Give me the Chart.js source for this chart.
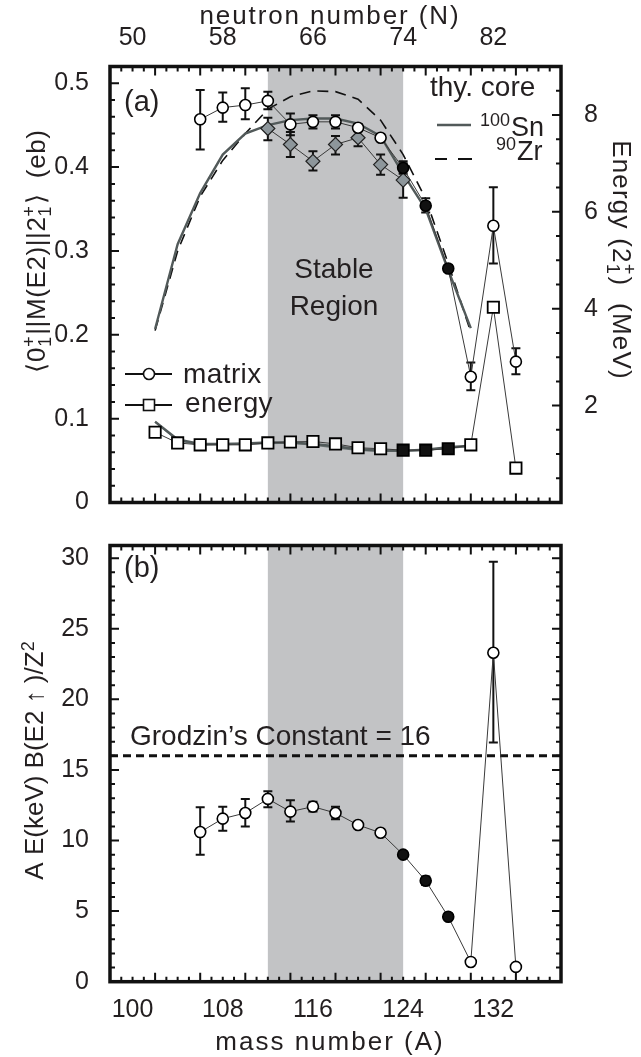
<!DOCTYPE html>
<html>
<head>
<meta charset="utf-8">
<script src="https://cdn.jsdelivr.net/npm/chart.js@4.4.1/dist/chart.umd.min.js"></script>
<style>
    body { margin: 0; background: #fff; }
    #wrap { position: relative; width: 641px; height: 1057px; }
    .box { position: absolute; left: 0; width: 641px; }
</style>
</head>
<body>
<div id="wrap">
    <div class="box" style="top:0;height:530px"><canvas id="topChart" width="641" height="530"></canvas></div>
    <div class="box" style="top:520px;height:537px"><canvas id="bottomChart" width="641" height="537"></canvas></div>
</div>
<script>
// ---- data ----
const matrixMass   = [106, 108, 110, 112, 114, 116, 118, 120, 122, 124, 126, 128, 130, 132, 134];
const matrixValues = [0.457, 0.471, 0.474, 0.479, 0.451, 0.454, 0.454, 0.447, 0.435, 0.399, 0.354, 0.279, 0.150, 0.330, 0.168];
const matrixErrUp  = [0.035, 0.018, 0.020, 0.011, 0.013, 0.008, 0.008, 0.004, 0.004, 0.008, 0.009, 0.004, 0.017, 0.046, 0.016];
const matrixErrDn  = [0.036, 0.017, 0.017, 0.010, 0.013, 0.008, 0.008, 0.004, 0.004, 0.007, 0.008, 0.004, 0.016, 0.045, 0.015];

const diamondMass   = [112, 114, 116, 118, 120, 122, 124];
const diamondValues = [0.446, 0.427, 0.407, 0.427, 0.435, 0.403, 0.3845];
const diamondErrUp  = [0.013, 0.015, 0.012, 0.010, 0.009, 0.012, 0.020];
const diamondErrDn  = [0.014, 0.015, 0.011, 0.012, 0.010, 0.012, 0.021];

const energyMass   = [102, 104, 106, 108, 110, 112, 114, 116, 118, 120, 122, 124, 126, 128, 130, 132, 134];
const energyValues = [1.45, 1.23, 1.19, 1.19, 1.19, 1.23, 1.25, 1.26, 1.21, 1.13, 1.11, 1.08, 1.08, 1.11, 1.19, 4.03, 0.71];

const theoryMass     = [102, 104, 106, 108, 110, 112, 114, 116, 118, 120, 122, 124, 126, 128, 130];
const theorySnMatrix = [0.207, 0.308, 0.369, 0.415, 0.440, 0.450, 0.456, 0.458, 0.458, 0.452, 0.437, 0.392, 0.350, 0.277, 0.208];
const theoryZrMatrix = [0.205, 0.300, 0.365, 0.408, 0.440, 0.469, 0.484, 0.491, 0.490, 0.481, 0.456, 0.415, 0.362, 0.285, 0.203];
const theorySnEnergy = [1.67, 1.30, 1.21, 1.21, 1.22, 1.24, 1.24, 1.21, 1.16, 1.10, 1.07, 1.07, 1.09, 1.14, 1.17];
const theoryZrEnergy = [1.66, 1.28, 1.19, 1.20, 1.21, 1.22, 1.23, 1.19, 1.13, 1.08, 1.06, 1.06, 1.08, 1.12, 1.16];

const ratioMass   = [106, 108, 110, 112, 114, 116, 118, 120, 122, 124, 126, 128, 130, 132, 134];
const ratioValues = [10.6, 11.55, 11.95, 12.95, 12.05, 12.4, 11.95, 11.1, 10.55, 9.0, 7.15, 4.6, 1.4, 23.3, 1.05];
const ratioErrUp  = [1.75, 0.85, 1.0, 0.55, 0.8, 0.35, 0.45, 0, 0, 0, 0.3, 0, 0, 6.45, 0];
const ratioErrDn  = [1.6, 0.85, 0.95, 0.6, 0.7, 0.35, 0.45, 0, 0, 0, 0.3, 0, 0, 6.35, 0];

const filledMass = [124, 126, 128];
const stableRegion = [112, 124];
const grodzinConstant = 16;

const massTicks    = [100, 108, 116, 124, 132];
const neutronTicks = [50, 58, 66, 74, 82];
const matrixTicks  = [0, 0.1, 0.2, 0.3, 0.4, 0.5];
const energyTicks  = [2, 4, 6, 8];
const ratioTicks   = [0, 5, 10, 15, 20, 25, 30];

// ---- look ----
const FONT = '"Liberation Sans", Arial, Helvetica, sans-serif';
const TEXT = '#231f20';
const THIN = '#3a3a3a';
const THY = '#525a5a';
const SHADE = '#c2c3c5';

const pts = (xs, ys) => xs.map((x, i) => ({x: x, y: ys[i]}));
const fills = xs => xs.map(x => filledMass.includes(x) ? '#111' : '#fff');
const setTicks = arr => scale => { scale.ticks = arr.map(v => ({value: v})); };
const tickFont = {family: FONT, size: 25, lineHeight: 1};

// text with sub/superscripts; letter spacing done by hand (one glyph at a time)
function drawRich(ctx, parts, x, y, o) {
    const size = o.size, sp = o.spacing || 0;
    const small = Math.round(size * 0.68) + 'px ' + FONT;
    const bigFont = p => (p.bold ? 'bold ' : '') + size + 'px ' + FONT;
    ctx.save();
    ctx.translate(x, y);
    if (o.rotate) ctx.rotate(o.rotate);
    ctx.fillStyle = TEXT;
    ctx.textBaseline = 'alphabetic';
    ctx.textAlign = 'left';
    const textWidth = s => sp ? [...s].reduce((w, c) => w + ctx.measureText(c).width + sp, 0) : ctx.measureText(s).width;
    const widthOf = p => {
        if (p.t) { ctx.font = bigFont(p); return textWidth(p.t); }
        ctx.font = small;
        return Math.max(ctx.measureText(p.sup || '').width, ctx.measureText(p.sub || '').width) + 1 + sp;
    };
    const total = parts.reduce((s, p) => s + widthOf(p), 0);
    let cx = o.align === 'center' ? -total / 2 : 0;
    parts.forEach(p => {
        const w = widthOf(p);
        if (p.t) {
            ctx.font = bigFont(p);
            if (sp) {
                let gx = cx;
                for (const c of p.t) { ctx.fillText(c, gx, 0); gx += ctx.measureText(c).width + sp; }
            } else ctx.fillText(p.t, cx, 0);
        } else {
            ctx.font = small;
            if (p.sup) ctx.fillText(p.sup, cx, p.sub ? -size * 0.40 : -size * 0.36);
            if (p.sub) ctx.fillText(p.sub, cx, size * 0.24);
        }
        cx += w;
    });
    ctx.restore();
}

function tickMarks(ctx, scale, area, side, step, count, majorEvery, from) {
    ctx.beginPath();
    for (let i = 0; i <= count; i++) {
        const v = from + i * step;
        const p = scale.getPixelForValue(v);
        const len = (i % majorEvery === 0) ? 9 : 5;
        if (side === 'top')    { ctx.moveTo(p, area.top);    ctx.lineTo(p, area.top + len); }
        if (side === 'bottom') { ctx.moveTo(p, area.bottom); ctx.lineTo(p, area.bottom - len); }
        if (side === 'left')   { ctx.moveTo(area.left, p);   ctx.lineTo(area.left + len, p); }
        if (side === 'right')  { ctx.moveTo(area.right, p);  ctx.lineTo(area.right - len, p); }
    }
    ctx.stroke();
}

function errorBars(ctx, xs, ys, up, dn, xScale, yScale) {
    ctx.save();
    ctx.strokeStyle = '#111';
    ctx.lineWidth = 2;
    ctx.beginPath();
    xs.forEach((m, i) => {
        if (!up[i] && !dn[i]) return;
        const x = xScale.getPixelForValue(m);
        const t = yScale.getPixelForValue(ys[i] + up[i]);
        const b = yScale.getPixelForValue(ys[i] - dn[i]);
        ctx.moveTo(x, t); ctx.lineTo(x, b);
        ctx.moveTo(x - 4.5, t); ctx.lineTo(x + 4.5, t);
        ctx.moveTo(x - 4.5, b); ctx.lineTo(x + 4.5, b);
    });
    ctx.stroke();
    ctx.restore();
}

function shade(chart) {
    const {ctx, chartArea: a, scales: {x}} = chart;
    const l = x.getPixelForValue(stableRegion[0]), r = x.getPixelForValue(stableRegion[1]);
    ctx.save();
    ctx.fillStyle = SHADE;
    ctx.fillRect(l, a.top, r - l, a.bottom - a.top);
    ctx.restore();
}

function frame(ctx, a) {
    ctx.save();
    ctx.strokeStyle = '#111';
    ctx.lineWidth = 3.5;
    ctx.strokeRect(a.left, a.top, a.right - a.left, a.bottom - a.top);
    ctx.restore();
}

// ---- panel (a) ----
const topDecor = {
    id: 'topDecor',
    beforeDatasetsDraw(chart) {
        const {ctx, scales} = chart;
        shade(chart);
        errorBars(ctx, matrixMass, matrixValues, matrixErrUp, matrixErrDn, scales.x, scales.y);
        errorBars(ctx, diamondMass, diamondValues, diamondErrUp, diamondErrDn, scales.x, scales.y);
    },
    afterDraw(chart) {
        const {ctx, chartArea: a, scales} = chart;
        ctx.save();
        ctx.strokeStyle = '#111';
        ctx.lineWidth = 2;
        tickMarks(ctx, scales.x, a, 'top', 1, 40, 4, 98);
        tickMarks(ctx, scales.x, a, 'bottom', 1, 40, 4, 98);
        tickMarks(ctx, scales.y, a, 'left', 0.02, 26, 5, 0);
        tickMarks(ctx, scales.yE, a, 'right', 0.5, 18, 4, 0);
        ctx.restore();
        frame(ctx, a);

        drawRich(ctx, [{t: 'neutron number (N)'}], 330, 23.5, {size: 26, spacing: 1.9, align: 'center'});
        drawRich(ctx, [{t: '\u27e80'}, {sup: '+', sub: '1'}, {t: '||M(E2)||2'}, {sup: '+', sub: '1'}, {t: '\u27e9  (eb)'}],
            45, 251, {size: 26, spacing: 0.6, align: 'center', rotate: -Math.PI / 2});
        drawRich(ctx, [{t: 'Energy (2'}, {sup: '+', sub: '1'}, {t: ')  (MeV)'}],
            613, 260, {size: 26, spacing: 1.2, align: 'center', rotate: Math.PI / 2});

        drawRich(ctx, [{t: '(a)'}], 124, 111, {size: 29});
        drawRich(ctx, [{t: 'Stable'}], 334, 278, {size: 28, align: 'center'});
        drawRich(ctx, [{t: 'Region'}], 334, 315, {size: 28, align: 'center'});

        // theory legend
        drawRich(ctx, [{t: 'thy. core'}], 430, 96, {size: 28});
        drawRich(ctx, [{sup: '100'}, {t: 'Sn'}], 480, 136, {size: 27});
        drawRich(ctx, [{sup: '90'}, {t: 'Zr'}], 496, 160, {size: 27});
        ctx.save();
        ctx.strokeStyle = THY;
        ctx.lineWidth = 2.4;
        ctx.beginPath(); ctx.moveTo(437, 125); ctx.lineTo(471, 125); ctx.stroke();
        ctx.strokeStyle = '#111';
        ctx.lineWidth = 1.8;
        ctx.beginPath(); ctx.moveTo(435, 159); ctx.lineTo(447, 159); ctx.moveTo(458, 159); ctx.lineTo(472, 159); ctx.stroke();

        // data legend
        ctx.strokeStyle = '#111';
        ctx.lineWidth = 2;
        ctx.beginPath(); ctx.moveTo(125, 374); ctx.lineTo(172, 374); ctx.moveTo(125, 405); ctx.lineTo(172, 405); ctx.stroke();
        ctx.fillStyle = '#fff';
        ctx.lineWidth = 1.6;
        ctx.beginPath(); ctx.arc(149, 374, 5.5, 0, Math.PI * 2); ctx.fill(); ctx.stroke();
        ctx.fillRect(143.5, 399.5, 11, 11); ctx.strokeRect(143.5, 399.5, 11, 11);
        ctx.restore();
        drawRich(ctx, [{t: 'matrix'}], 183, 383, {size: 28, spacing: 0.4});
        drawRich(ctx, [{t: 'energy'}], 185, 412, {size: 28, spacing: 0.4});
    }
};

new Chart(document.getElementById('topChart'), {
    type: 'scatter',
    data: {
        datasets: [{
            label: 'matrix',
            data: pts(matrixMass, matrixValues),
            yAxisID: 'y',
            showLine: true,
            borderColor: THIN,
            borderWidth: 1,
            pointStyle: 'circle',
            pointRadius: 5.5,
            pointBackgroundColor: fills(matrixMass),
            pointBorderColor: '#000',
            pointBorderWidth: 1.6
        }, {
            label: 'energy',
            data: pts(energyMass, energyValues),
            yAxisID: 'yE',
            showLine: true,
            borderColor: THIN,
            borderWidth: 1,
            pointStyle: 'rect',
            pointRadius: 8,
            pointBackgroundColor: fills(energyMass),
            pointBorderColor: '#000',
            pointBorderWidth: 1.8
        }, {
            label: 'other',
            data: pts(diamondMass, diamondValues),
            yAxisID: 'y',
            showLine: true,
            borderColor: THIN,
            borderWidth: 1,
            pointStyle: 'rectRot',
            pointRadius: 7,
            pointBackgroundColor: '#8d969b',
            pointBorderColor: '#222',
            pointBorderWidth: 1.2
        }, {
            label: '100Sn',
            data: pts(theoryMass, theorySnMatrix),
            yAxisID: 'y',
            showLine: true,
            borderColor: THY,
            borderWidth: 2.4,
            pointRadius: 0
        }, {
            label: '90Zr',
            data: pts(theoryMass, theoryZrMatrix),
            yAxisID: 'y',
            showLine: true,
            borderColor: '#111',
            borderWidth: 1.6,
            borderDash: [11, 7],
            pointRadius: 0
        }, {
            label: '100Sn energy',
            data: pts(theoryMass, theorySnEnergy),
            yAxisID: 'yE',
            showLine: true,
            borderColor: THY,
            borderWidth: 2.4,
            pointRadius: 0
        }, {
            label: '90Zr energy',
            data: pts(theoryMass, theoryZrEnergy),
            yAxisID: 'yE',
            showLine: true,
            borderColor: '#6a7272',
            borderWidth: 1.6,
            pointRadius: 0
        }]
    },
    options: {
        responsive: false,
        animation: false,
        events: [],
        layout: {padding: 0},
        plugins: {legend: {display: false}, tooltip: {enabled: false}},
        scales: {
            x: {
                type: 'linear', position: 'bottom', min: 98, max: 138,
                grid: {display: false}, border: {display: false},
                ticks: {display: false},
                afterFit: s => { s.height = 13.3; }
            },
            xN: {
                type: 'linear', position: 'top', min: 48, max: 88,
                grid: {display: false}, border: {display: false},
                afterBuildTicks: setTicks(neutronTicks),
                ticks: {font: tickFont, color: TEXT, padding: 8, maxRotation: 0},
                afterFit: s => { s.height = 66.5; }
            },
            y: {
                type: 'linear', position: 'left', min: 0, max: 0.52,
                grid: {display: false}, border: {display: false},
                afterBuildTicks: setTicks(matrixTicks),
                ticks: {font: tickFont, color: TEXT, padding: 13, callback: v => v === 0 ? '0' : v.toFixed(1)},
                afterFit: s => { s.width = 110; }
            },
            yE: {
                type: 'linear', position: 'right', min: 0, max: 9,
                grid: {display: false}, border: {display: false},
                afterBuildTicks: setTicks(energyTicks),
                ticks: {font: tickFont, color: TEXT, padding: 15},
                afterFit: s => { s.width = 80; }
            }
        }
    },
    plugins: [topDecor]
});

// ---- panel (b) ----
const bottomDecor = {
    id: 'bottomDecor',
    beforeDatasetsDraw(chart) {
        const {ctx, chartArea: a, scales} = chart;
        shade(chart);
        const gy = scales.y.getPixelForValue(grodzinConstant);
        ctx.save();
        ctx.strokeStyle = '#111';
        ctx.lineWidth = 3;
        ctx.setLineDash([8, 5]);
        ctx.beginPath(); ctx.moveTo(a.left, gy); ctx.lineTo(a.right, gy); ctx.stroke();
        ctx.restore();
        errorBars(ctx, ratioMass, ratioValues, ratioErrUp, ratioErrDn, scales.x, scales.y);
    },
    afterDraw(chart) {
        const {ctx, chartArea: a, scales} = chart;
        ctx.save();
        ctx.strokeStyle = '#111';
        ctx.lineWidth = 2;
        tickMarks(ctx, scales.x, a, 'top', 1, 40, 4, 98);
        tickMarks(ctx, scales.x, a, 'bottom', 1, 40, 4, 98);
        tickMarks(ctx, scales.y, a, 'left', 1, 30, 5, 0);
        tickMarks(ctx, scales.y, a, 'right', 1, 30, 5, 0);
        ctx.restore();
        frame(ctx, a);

        drawRich(ctx, [{t: '(b)'}], 124, 577 - 520, {size: 29});
        drawRich(ctx, [{t: 'Grodzin\u2019s Constant = 16'}], 130, 745 - 520, {size: 28});
        drawRich(ctx, [{t: 'A E(keV) B(E2 '}, {t: '\u2191', bold: true}, {t: ' )/Z'}, {sup: '2'}], 43, 760 - 520,
            {size: 26, align: 'center', rotate: -Math.PI / 2});
        drawRich(ctx, [{t: 'mass number (A)'}], 330, 1050 - 520, {size: 26, spacing: 2, align: 'center'});
    }
};

new Chart(document.getElementById('bottomChart'), {
    type: 'scatter',
    data: {
        datasets: [{
            label: 'ratio',
            data: pts(ratioMass, ratioValues),
            showLine: true,
            borderColor: THIN,
            borderWidth: 1,
            pointStyle: 'circle',
            pointRadius: 5.5,
            pointBackgroundColor: fills(ratioMass),
            pointBorderColor: '#000',
            pointBorderWidth: 1.6
        }]
    },
    options: {
        responsive: false,
        animation: false,
        events: [],
        layout: {padding: {top: 15, right: 80, left: 0, bottom: 0}},
        plugins: {legend: {display: false}, tooltip: {enabled: false}},
        scales: {
            x: {
                type: 'linear', position: 'bottom', min: 98, max: 138,
                grid: {display: false}, border: {display: false},
                afterBuildTicks: setTicks(massTicks),
                ticks: {font: tickFont, color: TEXT, padding: 7.5, maxRotation: 0},
                afterFit: s => { s.height = 75.3; }
            },
            y: {
                type: 'linear', position: 'left', min: 0, max: 30.9,
                grid: {display: false}, border: {display: false},
                afterBuildTicks: setTicks(ratioTicks),
                ticks: {font: tickFont, color: TEXT, padding: 13},
                afterFit: s => { s.width = 110; }
            }
        }
    },
    plugins: [bottomDecor]
});
</script>
</body>
</html>
